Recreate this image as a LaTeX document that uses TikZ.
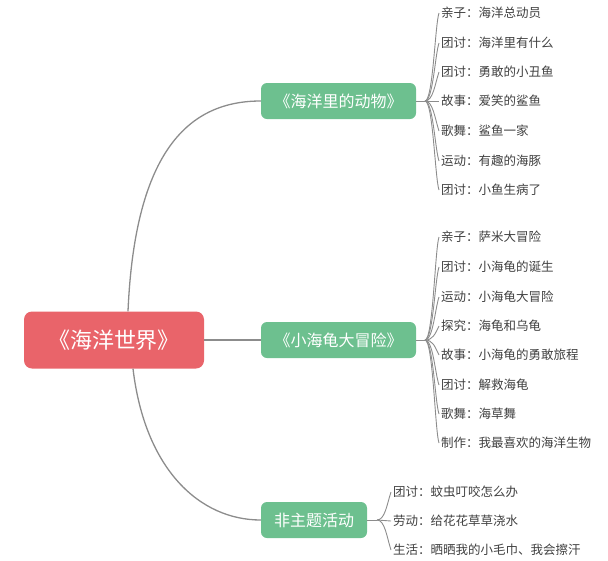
\documentclass[tikz,border=0pt]{standalone}
\usepackage{fontspec}
\setmainfont{Noto Sans CJK SC}
\usepackage{xcolor}
\definecolor{rootred}{HTML}{E9646A}
\definecolor{topicgreen}{HTML}{6DC08F}
\definecolor{linegray}{HTML}{8C8C8C}
\definecolor{leaftext}{HTML}{404040}

\begin{document}
\begin{tikzpicture}[x=1pt,y=-1pt,
  root/.style={fill=rootred,text=white,rounded corners=8pt,minimum width=180pt,minimum height=57pt,font=\fontsize{22}{26}\selectfont},
  topic/.style={fill=topicgreen,text=white,rounded corners=6pt,minimum height=36pt,font=\fontsize{16}{19}\selectfont},
  leaf/.style={anchor=west,inner sep=2pt,text=leaftext,font=\fontsize{12.5}{15}\selectfont},
  link/.style={draw=linegray,line width=1.3pt},
  twig/.style={draw=linegray,line width=0.9pt}]
  \useasboundingbox (0,0) rectangle (608,560);

  % main topic and subtopics
  \node[root] (root) at (114,340) {《海洋世界》};
  \node[topic,minimum width=155pt] (t1) at (338.5,101) {《海洋里的动物》};
  \node[topic,minimum width=155pt] (t2) at (338.5,340) {《小海龟大冒险》};
  \node[topic,minimum width=106pt] (t3) at (314,520) {非主题活动};

  \draw[link] ([xshift=14pt]root.north) .. controls +(7,-162) and +(-71,0) .. (t1.west);
  \draw[link] (root.east) -- (t2.west);
  \draw[link] ([xshift=19pt]root.south) .. controls +(12,101) and +(-61,0) .. (t3.west);

  % branches of the first subtopic
  \coordinate (j1) at (425,101);
  \draw[twig] (t1.east) -- (j1);
  \node[leaf] (a1) at (439,13) {亲子：海洋总动员};
  \node[leaf] (a2) at (439,43) {团讨：海洋里有什么};
  \node[leaf] (a3) at (439,72) {团讨：勇敢的小丑鱼};
  \node[leaf] (a4) at (439,101) {故事：爱笑的鲨鱼};
  \node[leaf] (a5) at (439,131) {歌舞：鲨鱼一家};
  \node[leaf] (a6) at (439,161) {运动：有趣的海豚};
  \node[leaf] (a7) at (439,190) {团讨：小鱼生病了};
  \draw[twig] (j1) .. controls +(8,0) and +(-4,12) .. (a1.west);
  \draw[twig] (j1) .. controls +(8,0) and +(-4,12) .. (a2.west);
  \draw[twig] (j1) .. controls +(8,0) and +(-4,12) .. (a3.west);
  \draw[twig] (j1) -- (a4.west);
  \draw[twig] (j1) .. controls +(8,0) and +(-4,-12) .. (a5.west);
  \draw[twig] (j1) .. controls +(8,0) and +(-4,-12) .. (a6.west);
  \draw[twig] (j1) .. controls +(8,0) and +(-4,-12) .. (a7.west);

  % branches of the second subtopic
  \coordinate (j2) at (425,340);
  \draw[twig] (t2.east) -- (j2);
  \node[leaf] (b1) at (439,237) {亲子：萨米大冒险};
  \node[leaf] (b2) at (439,267) {团讨：小海龟的诞生};
  \node[leaf] (b3) at (439,297) {运动：小海龟大冒险};
  \node[leaf] (b4) at (439,326) {探究：海龟和乌龟};
  \node[leaf] (b5) at (439,355) {故事：小海龟的勇敢旅程};
  \node[leaf] (b6) at (439,385) {团讨：解救海龟};
  \node[leaf] (b7) at (439,414) {歌舞：海草舞};
  \node[leaf] (b8) at (439,443) {制作：我最喜欢的海洋生物};
  \draw[twig] (j2) .. controls +(8,0) and +(-4,12) .. (b1.west);
  \draw[twig] (j2) .. controls +(8,0) and +(-4,12) .. (b2.west);
  \draw[twig] (j2) .. controls +(8,0) and +(-4,12) .. (b3.west);
  \draw[twig] (j2) .. controls +(8,0) and +(-4,8) .. (b4.west);
  \draw[twig] (j2) .. controls +(8,0) and +(-4,-8) .. (b5.west);
  \draw[twig] (j2) .. controls +(8,0) and +(-4,-12) .. (b6.west);
  \draw[twig] (j2) .. controls +(8,0) and +(-4,-12) .. (b7.west);
  \draw[twig] (j2) .. controls +(8,0) and +(-4,-12) .. (b8.west);

  % branches of the third subtopic
  \coordinate (j3) at (377,520);
  \draw[twig] (t3.east) -- (j3);
  \node[leaf] (c1) at (391,492) {团讨：蚊虫叮咬怎么办};
  \node[leaf] (c2) at (391,521) {劳动：给花花草草浇水};
  \node[leaf] (c3) at (391,550) {生活：晒晒我的小毛巾、我会擦汗};
  \draw[twig] (j3) .. controls +(8,0) and +(-4,12) .. (c1.west);
  \draw[twig] (j3) -- (c2.west);
  \draw[twig] (j3) .. controls +(8,0) and +(-4,-12) .. (c3.west);
\end{tikzpicture}
\end{document}
